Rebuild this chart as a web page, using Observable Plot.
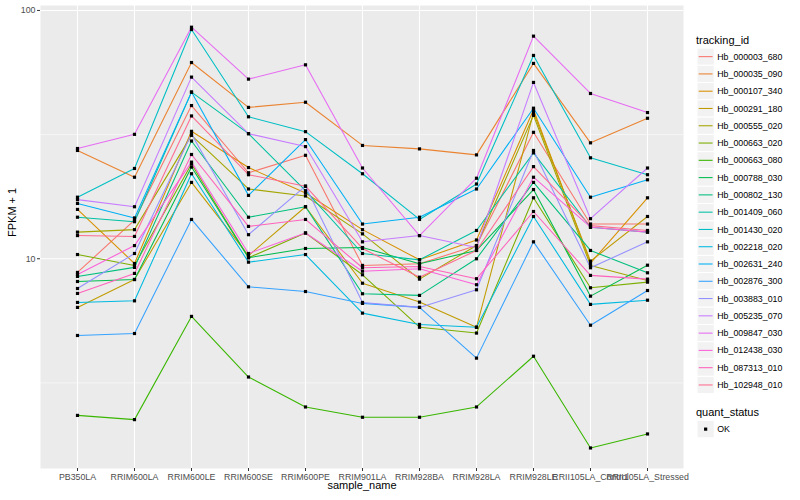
<!DOCTYPE html>
<html>
<head>
<meta charset="utf-8">
<script src="https://cdn.jsdelivr.net/npm/d3@7"></script>
<script src="https://cdn.jsdelivr.net/npm/@observablehq/plot@0.6"></script>
<style>
  html, body { margin: 0; padding: 0; background: white; }
  #wrap { position: relative; width: 800px; height: 500px; font-family: "Liberation Sans", Arial, sans-serif; }
  #legend { position: absolute; left: 0; top: 0; pointer-events: none; }
</style>
</head>
<body>
<div id="wrap"></div>
<script>
// ---- data ----
const samples = ["PB350LA","RRIM600LA","RRIM600LE","RRIM600SE","RRIM600PE","RRIM901LA","RRIM928BA","RRIM928LA","RRIM928LE","RRII105LA_Control","RRII105LA_Stressed"];
const trackingIds = ["Hb_000003_680","Hb_000035_090","Hb_000107_340","Hb_000291_180","Hb_000555_020","Hb_000663_020","Hb_000663_080","Hb_000788_030","Hb_000802_130","Hb_001409_060","Hb_001430_020","Hb_002218_020","Hb_002631_240","Hb_002876_300","Hb_003883_010","Hb_005235_070","Hb_009847_030","Hb_012438_030","Hb_087313_010","Hb_102948_010"];
const idColors = ["#F8766D","#EA8331","#D89000","#C09B00","#A3A500","#7CAE00","#39B600","#00BB4E","#00BF7D","#00C1A3","#00BFC4","#00BAE0","#00B0F6","#35A2FF","#9590FF","#C77CFF","#E76BF3","#FA62DB","#FF62BC","#FF6C91"];

// FPKM + 1 per sample, in the order of `samples`
const Hb_000003_680 = [8.81, 14.3, 41.4, 22.2, 26.1, 9.40, 9.55, 11.3, 32.3, 13.8, 13.8];
const Hb_000035_090 = [27.3, 21.3, 61.7, 40.7, 42.7, 28.6, 27.7, 26.2, 61.2, 29.3, 36.8];
const Hb_000107_340 = [15.8, 9.57, 32.6, 23.3, 18.4, 13.1, 9.9, 11.9, 39.8, 9.60, 17.6];
const Hb_000291_180 = [6.37, 8.25, 20.3, 10.3, 16.2, 7.97, 6.69, 5.30, 38.8, 9.78, 14.8];
const Hb_000555_020 = [12.8, 13.1, 31.4, 19.1, 17.9, 12.6, 8.28, 11.3, 37.8, 9.40, 8.18];
const Hb_000663_020 = [10.4, 9.40, 24.1, 10.1, 12.7, 8.62, 5.30, 5.02, 17.6, 7.64, 8.05];
const Hb_000663_080 = [2.34, 2.25, 5.86, 3.34, 2.53, 2.30, 2.30, 2.53, 4.05, 1.73, 1.97];
const Hb_000788_030 = [8.10, 8.25, 23.4, 10.1, 11.0, 11.1, 9.55, 10.8, 19.0, 7.07, 9.42];
const Hb_000802_130 = [8.49, 9.23, 29.8, 14.7, 16.2, 7.23, 7.12, 10.0, 20.3, 10.8, 8.78];
const Hb_001409_060 = [14.7, 14.1, 46.9, 31.9, 18.8, 10.5, 9.9, 13.0, 26.7, 13.4, 12.8];
const Hb_001430_020 = [17.7, 23.1, 83.8, 37.3, 32.5, 22.0, 14.4, 20.0, 65.9, 25.5, 21.8];
const Hb_002218_020 = [6.67, 6.77, 22.0, 9.69, 10.4, 6.04, 5.44, 5.30, 14.8, 6.55, 6.81];
const Hb_002631_240 = [16.7, 14.6, 46.9, 18.0, 30.2, 13.8, 14.7, 19.1, 40.4, 17.7, 20.8];
const Hb_002876_300 = [4.91, 5.00, 14.4, 7.71, 7.38, 6.61, 6.37, 3.98, 11.7, 5.40, 7.45];
const Hb_003883_010 = [7.59, 10.5, 31.8, 12.5, 19.6, 6.67, 6.37, 7.50, 27.3, 9.20, 11.7];
const Hb_005235_070 = [17.3, 16.2, 53.9, 31.9, 28.3, 11.7, 12.4, 11.1, 51.3, 14.5, 23.2];
const Hb_009847_030 = [27.8, 31.7, 85.6, 52.9, 60.4, 23.2, 12.4, 21.1, 78.8, 46.3, 38.8];
const Hb_012438_030 = [8.65, 11.3, 24.5, 10.5, 12.7, 8.91, 9.11, 7.86, 21.3, 13.4, 12.8];
const Hb_087313_010 = [7.25, 8.73, 26.3, 13.5, 14.4, 9.20, 9.31, 8.31, 15.5, 8.57, 8.28];
const Hb_102948_010 = [12.4, 12.3, 37.6, 21.8, 19.6, 11.0, 8.43, 10.8, 23.5, 13.6, 13.0];

const seriesValues = [Hb_000003_680, Hb_000035_090, Hb_000107_340, Hb_000291_180, Hb_000555_020, Hb_000663_020, Hb_000663_080, Hb_000788_030, Hb_000802_130, Hb_001409_060, Hb_001430_020, Hb_002218_020, Hb_002631_240, Hb_002876_300, Hb_003883_010, Hb_005235_070, Hb_009847_030, Hb_012438_030, Hb_087313_010, Hb_102948_010];

const yMajorTicks = [10, 100];
const yMinorBreaks = [3.162, 31.62];
const yDomain = [1.43, 104.7];
const quantStatus = ["OK"];

// ---- build table ----
const rows = [];
trackingIds.forEach((id, i) => {
  samples.forEach((s, j) => rows.push({tracking_id: id, sample_name: s, value: seriesValues[i][j], quant_status: "OK"}));
});

const W = 800, H = 500, mL = 40, mR = 117, mT = 5, mB = 32;

const chart = Plot.plot({
  width: W, height: H,
  marginLeft: mL, marginRight: mR, marginTop: mT, marginBottom: mB,
  style: {fontFamily: "'Liberation Sans', Arial, sans-serif", background: "white", overflow: "visible"},
  x: {type: "point", domain: samples, padding: 0.6},
  y: {type: "log", domain: yDomain},
  color: {domain: trackingIds, range: idColors},
  marks: [
    Plot.frame({fill: "#EBEBEB", stroke: null}),
    Plot.ruleY(yMinorBreaks, {stroke: "white", strokeWidth: 0.55}),
    Plot.ruleY(yMajorTicks, {stroke: "white", strokeWidth: 1.1}),
    Plot.ruleX(samples, {x: d => d, stroke: "white", strokeWidth: 1.1}),
    Plot.line(rows, {x: "sample_name", y: "value", z: "tracking_id", stroke: "tracking_id", strokeWidth: 1.07}),
    Plot.dot(rows, {x: "sample_name", y: "value", symbol: "square", fill: "black", stroke: null, r: 1.8}),
    Plot.axisX({ticks: samples, tickSize: 3, tickPadding: 2, fontSize: 8.8, color: "#4D4D4D", stroke: "#333333", label: null}),
    Plot.axisY({ticks: yMajorTicks, tickFormat: d => String(d), tickSize: 3, tickPadding: 2, fontSize: 8.8, color: "#4D4D4D", stroke: "#333333", label: null}),
    Plot.text(["FPKM + 1"], {frameAnchor: "left", dx: -28, rotate: -90, fontSize: 11, fill: "black"}),
    Plot.text(["sample_name"], {frameAnchor: "bottom", dy: 20, fontSize: 11, fill: "black"})
  ]
});

const wrap = document.getElementById("wrap");
wrap.appendChild(chart);

// ---- legend (right side) ----
const svg = d3.select(wrap).append("svg")
  .attr("id", "legend").attr("width", W).attr("height", H)
  .style("font-family", "'Liberation Sans', Arial, sans-serif");

const lx = 697, keyS = 17.28, firstTop = 48;
svg.append("text").attr("x", lx - 1).attr("y", 40.5).attr("dy", "0.35em")
  .attr("font-size", 11).attr("fill", "black").text("tracking_id");
trackingIds.forEach((id, i) => {
  const top = firstTop + i * keyS;
  svg.append("rect").attr("x", lx).attr("y", top).attr("width", keyS).attr("height", keyS)
    .attr("fill", "#F2F2F2").attr("stroke", "white").attr("stroke-width", 1);
  svg.append("line").attr("x1", lx + 1.7).attr("x2", lx + keyS - 1.7)
    .attr("y1", top + keyS / 2).attr("y2", top + keyS / 2)
    .attr("stroke", idColors[i]).attr("stroke-width", 1.07);
  svg.append("text").attr("x", lx + keyS + 3).attr("y", top + keyS / 2).attr("dy", "0.35em")
    .attr("font-size", 8.8).attr("fill", "black").text(id);
});

svg.append("text").attr("x", lx - 1).attr("y", 412.5).attr("dy", "0.35em")
  .attr("font-size", 11).attr("fill", "black").text("quant_status");
quantStatus.forEach((q, i) => {
  const top = 420.5 + i * keyS;
  svg.append("rect").attr("x", lx).attr("y", top).attr("width", keyS).attr("height", keyS)
    .attr("fill", "#F2F2F2").attr("stroke", "white").attr("stroke-width", 1);
  svg.append("rect").attr("x", lx + keyS / 2 - 1.6).attr("y", top + keyS / 2 - 1.6)
    .attr("width", 3.2).attr("height", 3.2).attr("fill", "black");
  svg.append("text").attr("x", lx + keyS + 3).attr("y", top + keyS / 2).attr("dy", "0.35em")
    .attr("font-size", 8.8).attr("fill", "black").text(q);
});
</script>
</body>
</html>
